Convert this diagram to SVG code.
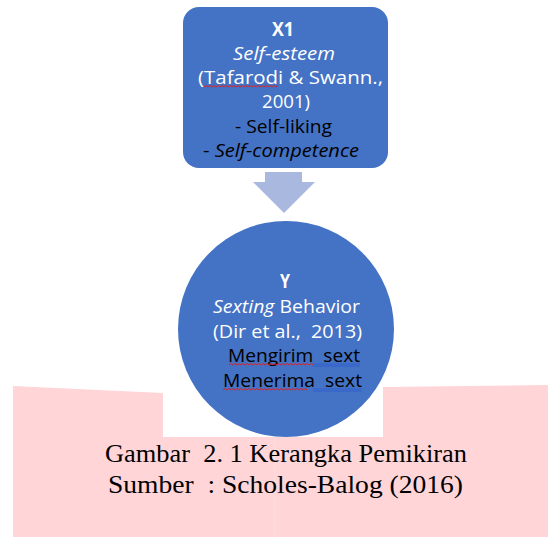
<svg xmlns="http://www.w3.org/2000/svg" width="548" height="537" viewBox="0 0 548 537">
<style>
.t{font-family:"Open Sans","Liberation Sans",sans-serif;font-size:19px}
.w{fill:#FFFFFF}
.k{fill:#000000}
.cap{font-family:"Liberation Serif",serif;font-size:26px;fill:#000}
.sq{fill:none;stroke:#E02020;stroke-width:1}
.bl{stroke:#2F5FD0;stroke-width:0.9}
</style>
<rect width="548" height="537" fill="#FFFFFF"/>
<g id="background">
<path d="M13 386 L163 393 L163 437 L383 437 L383 387 L548 385 L548 537 L13 537 Z" fill="#FFD5D8"/>
<line x1="275" y1="437" x2="275" y2="537" stroke="#FBE0E2" stroke-width="1"/>
</g>
<g id="connectors">
<path d="M265 172 L302 172 L302 182 L315 182 L284 213 L253 182 L265 182 Z" fill="#A9B8DE"/>
</g>
<g id="node-x1">
<rect x="183" y="7" width="205" height="161" rx="16" fill="#4472C4"/>
<text class="t w" x="272" y="36" font-weight="bold" textLength="22" lengthAdjust="spacingAndGlyphs">X1</text>
<text class="t w" x="233" y="60" font-style="italic" textLength="102" lengthAdjust="spacingAndGlyphs">Self-esteem</text>
<text class="t w" x="198" y="84" textLength="185" lengthAdjust="spacingAndGlyphs">(Tafarodi &amp; Swann.,</text>
<text class="t w" x="262" y="108" textLength="48" lengthAdjust="spacingAndGlyphs">2001)</text>
<text class="t k" x="235" y="133" textLength="97" lengthAdjust="spacingAndGlyphs">- Self-liking</text>
<text class="t k" x="203" y="157" textLength="156" lengthAdjust="spacingAndGlyphs"><tspan>- </tspan><tspan font-style="italic">Self-competence</tspan></text>
<path class="sq" d="M204 87 l2 -1.5 l2 1.5 l2 -1.5 l2 1.5 l2 -1.5 l2 1.5 l2 -1.5 l2 1.5 l2 -1.5 l2 1.5 l2 -1.5 l2 1.5 l2 -1.5 l2 1.5 l2 -1.5 l2 1.5 l2 -1.5 l2 1.5 l2 -1.5 l2 1.5 l2 -1.5 l2 1.5 l2 -1.5 l2 1.5 l2 -1.5 l2 1.5 l2 -1.5 l2 1.5 l2 -1.5 l2 1.5 l2 -1.5 l2 1.5 l2 -1.5 l2 1.5 l2 -1.5 l2 1.5 l2 -1.5"/>
</g>
<g id="node-y">
<circle cx="286" cy="329" r="108" fill="#4472C4"/>
<text class="t w" x="280" y="288" font-weight="bold" textLength="10" lengthAdjust="spacingAndGlyphs">Y</text>
<text class="t w" x="213" y="313" textLength="147" lengthAdjust="spacingAndGlyphs"><tspan font-style="italic">Sexting</tspan> Behavior</text>
<text class="t w" x="213" y="338" textLength="149" lengthAdjust="spacingAndGlyphs" xml:space="preserve">(Dir et al.,  2013)</text>
<text class="t k" x="228" y="362" textLength="132" lengthAdjust="spacingAndGlyphs" xml:space="preserve">Mengirim  sext</text>
<text class="t k" x="223" y="387" textLength="139" lengthAdjust="spacingAndGlyphs" xml:space="preserve">Menerima  sext</text>
<path class="sq" d="M229 365 l2 -1.5 l2 1.5 l2 -1.5 l2 1.5 l2 -1.5 l2 1.5 l2 -1.5 l2 1.5 l2 -1.5 l2 1.5 l2 -1.5 l2 1.5 l2 -1.5 l2 1.5 l2 -1.5 l2 1.5 l2 -1.5 l2 1.5 l2 -1.5 l2 1.5 l2 -1.5 l2 1.5 l2 -1.5 l2 1.5 l2 -1.5 l2 1.5 l2 -1.5 l2 1.5 l2 -1.5 l2 1.5 l2 -1.5 l2 1.5 l2 -1.5 l2 1.5 l2 -1.5 l2 1.5 l2 -1.5 l2 1.5 l2 -1.5 l2 1.5 l2 -1.5 l2 1.5"/>
<path class="sq" d="M223 390 l2 -1.5 l2 1.5 l2 -1.5 l2 1.5 l2 -1.5 l2 1.5 l2 -1.5 l2 1.5 l2 -1.5 l2 1.5 l2 -1.5 l2 1.5 l2 -1.5 l2 1.5 l2 -1.5 l2 1.5 l2 -1.5 l2 1.5 l2 -1.5 l2 1.5 l2 -1.5 l2 1.5 l2 -1.5 l2 1.5 l2 -1.5 l2 1.5 l2 -1.5 l2 1.5 l2 -1.5 l2 1.5 l2 -1.5 l2 1.5 l2 -1.5 l2 1.5 l2 -1.5 l2 1.5 l2 -1.5 l2 1.5 l2 -1.5 l2 1.5 l2 -1.5 l2 1.5"/>
<line class="bl" x1="313" y1="364" x2="360" y2="364"/>
<line class="bl" x1="313" y1="366" x2="360" y2="366"/>
<line class="bl" x1="313" y1="389" x2="362" y2="389"/>
<line class="bl" x1="313" y1="391" x2="362" y2="391"/>
</g>
<g id="caption">
<text class="cap" x="105" y="462" textLength="362" lengthAdjust="spacingAndGlyphs" xml:space="preserve">Gambar  2. 1 Kerangka Pemikiran</text>
<text class="cap" x="108" y="493" textLength="355" lengthAdjust="spacingAndGlyphs" xml:space="preserve">Sumber  : Scholes-Balog (2016)</text>
</g>
</svg>
